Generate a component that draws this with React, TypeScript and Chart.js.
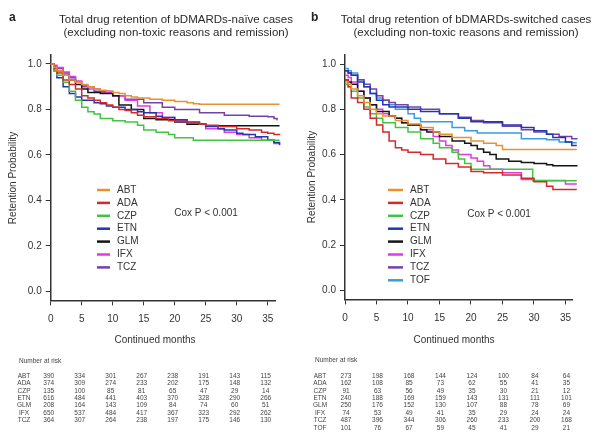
import React, { useEffect, useRef } from "react";
import { Chart, registerables } from "chart.js";

Chart.register(...registerables);

const FONT = "'Liberation Sans', Arial, Helvetica, sans-serif";

// ---------- categories / ticks ----------
const drugsA = ["ABT", "ADA", "CZP", "ETN", "GLM", "IFX", "TCZ"];
const drugsB = ["ABT", "ADA", "CZP", "ETN", "GLM", "IFX", "TCZ", "TOF"];
const drugColors: Record<string, string> = {
  ABT: "#E8912F",
  ADA: "#D42A2A",
  CZP: "#44C244",
  ETN: "#2236B0",
  GLM: "#151515",
  IFX: "#E03BE0",
  TCZ: "#7343A8",
  TOF: "#3A9CE0",
};
const xTicks = [0, 5, 10, 15, 20, 25, 30, 35];
const yTicks = [0, 0.2, 0.4, 0.6, 0.8, 1.0];
const riskMonths = [0, 5, 10, 15, 20, 25, 30, 35];

// ---------- panel a: survival curves (months, probability) ----------
const aABT_t = [0, 0.5, 1, 2, 3, 4, 5, 6, 7, 8, 9, 10, 11, 12, 13, 14, 16, 18, 20, 22, 23, 24, 36.9];
const aABT_s = [1, 0.985, 0.97, 0.95, 0.93, 0.92, 0.91, 0.9, 0.89, 0.885, 0.88, 0.875, 0.87, 0.86, 0.855, 0.85, 0.845, 0.84, 0.835, 0.83, 0.825, 0.823, 0.823];
const aADA_t = [0, 0.5, 1, 2, 3, 4, 5, 6, 7, 8, 9, 10, 11, 12, 13, 14, 15, 17, 19, 20, 22, 24, 25, 27, 30, 32, 34, 35, 36, 36.9];
const aADA_s = [1, 0.98, 0.96, 0.93, 0.91, 0.89, 0.86, 0.85, 0.84, 0.83, 0.82, 0.81, 0.8, 0.795, 0.785, 0.775, 0.768, 0.76, 0.75, 0.747, 0.74, 0.735, 0.73, 0.725, 0.715, 0.71, 0.7, 0.695, 0.69, 0.688];
const aCZP_t = [0, 0.5, 1, 2, 3, 4, 5, 6, 7, 8, 10, 12, 14, 15, 17, 19, 20, 23, 36.9];
const aCZP_s = [1, 0.97, 0.95, 0.92, 0.88, 0.84, 0.81, 0.79, 0.78, 0.76, 0.75, 0.745, 0.73, 0.71, 0.7, 0.69, 0.675, 0.665, 0.665];
const aETN_t = [0, 0.5, 1, 2, 3, 4, 5, 7, 8, 9, 10, 12, 14, 15, 17, 18, 20, 22, 24, 25, 27, 28, 30, 31, 33, 35, 36, 36.9];
const aETN_s = [1, 0.97, 0.94, 0.9, 0.87, 0.855, 0.84, 0.83, 0.825, 0.815, 0.81, 0.8, 0.79, 0.785, 0.77, 0.765, 0.755, 0.745, 0.735, 0.725, 0.715, 0.71, 0.695, 0.69, 0.68, 0.665, 0.655, 0.645];
const aGLM_t = [0, 0.5, 1, 2, 3, 4, 5, 6, 8, 10, 11, 13, 15, 17, 20, 22, 25, 36.9];
const aGLM_s = [1, 0.98, 0.97, 0.95, 0.93, 0.91, 0.89, 0.875, 0.87, 0.86, 0.82, 0.8, 0.76, 0.755, 0.745, 0.735, 0.728, 0.728];
const aIFX_t = [0, 0.5, 1, 2, 3, 4, 5, 6, 8, 10, 12, 14, 16, 18, 20, 22, 25, 28, 30, 32, 34, 36, 36.9];
const aIFX_s = [1, 0.995, 0.985, 0.965, 0.945, 0.925, 0.905, 0.89, 0.875, 0.86, 0.84, 0.815, 0.785, 0.765, 0.75, 0.735, 0.715, 0.7, 0.69, 0.675, 0.665, 0.65, 0.643];
const aTCZ_t = [0, 0.5, 1, 2, 3, 4, 5, 7, 10, 12, 15, 18, 20, 24, 28, 32, 35, 36, 36.5, 36.9];
const aTCZ_s = [1, 0.99, 0.98, 0.96, 0.94, 0.92, 0.9, 0.88, 0.86, 0.845, 0.83, 0.81, 0.8, 0.785, 0.775, 0.77, 0.768, 0.76, 0.752, 0.752];

// ---------- panel b: survival curves ----------
const bABT_t = [0, 0.5, 1, 2, 3, 4, 5, 6, 8, 10, 12, 14, 15, 17, 20, 22, 24, 25, 36.8];
const bABT_s = [0.92, 0.91, 0.89, 0.86, 0.83, 0.8, 0.78, 0.77, 0.75, 0.735, 0.72, 0.7, 0.69, 0.675, 0.66, 0.65, 0.64, 0.622, 0.622];
const bADA_t = [0, 0.5, 1, 2, 3, 4, 5, 6, 7, 8, 9, 10, 12, 14, 16, 18, 20, 22, 25, 28, 30, 32, 33, 36.8];
const bADA_s = [0.93, 0.9, 0.85, 0.83, 0.8, 0.76, 0.73, 0.7, 0.66, 0.63, 0.62, 0.61, 0.6, 0.58, 0.56, 0.545, 0.525, 0.52, 0.51, 0.495, 0.48, 0.46, 0.445, 0.445];
const bCZP_t = [0, 0.5, 1, 2, 3, 4, 5, 6, 8, 10, 12, 14, 15, 17, 18, 19, 20, 29.8, 36.8];
const bCZP_s = [0.91, 0.9, 0.88, 0.85, 0.81, 0.78, 0.76, 0.74, 0.72, 0.7, 0.67, 0.65, 0.63, 0.61, 0.58, 0.56, 0.535, 0.484, 0.484];
const bETN_t = [0, 0.5, 1, 2, 3, 4, 5, 6, 7, 10, 12, 15, 18, 20, 25, 28, 30, 32, 33, 35, 36, 36.8];
const bETN_s = [0.97, 0.96, 0.95, 0.92, 0.9, 0.87, 0.84, 0.82, 0.81, 0.8, 0.79, 0.78, 0.76, 0.745, 0.73, 0.72, 0.705, 0.69, 0.675, 0.655, 0.64, 0.64];
const bGLM_t = [0, 0.5, 1, 2, 3, 4, 5, 7, 8, 9, 10, 12, 13, 15, 17, 19, 20, 21, 22, 23, 24, 26, 28, 30, 32, 33, 36.8];
const bGLM_s = [0.93, 0.92, 0.91, 0.88, 0.85, 0.82, 0.79, 0.77, 0.76, 0.74, 0.73, 0.71, 0.7, 0.68, 0.66, 0.65, 0.64, 0.625, 0.61, 0.6, 0.58, 0.57, 0.565, 0.56, 0.555, 0.55, 0.547];
const bIFX_t = [0, 0.5, 1, 2, 3, 4, 5, 6, 7, 8, 9, 10, 12, 14, 15, 16, 17, 18, 20, 21, 22, 23, 25, 28, 30, 33, 35, 36.8];
const bIFX_s = [0.95, 0.94, 0.92, 0.88, 0.85, 0.82, 0.8, 0.78, 0.77, 0.76, 0.74, 0.73, 0.71, 0.68, 0.66, 0.64, 0.62, 0.6, 0.585, 0.57, 0.55, 0.535, 0.52, 0.49, 0.485, 0.485, 0.47, 0.47];
const bTCZ_t = [0, 0.5, 1, 2, 3, 4, 5, 6, 7, 8, 10, 12, 15, 18, 20, 22, 25, 28, 30, 32, 34, 36, 36.8];
const bTCZ_s = [0.97, 0.96, 0.95, 0.93, 0.91, 0.89, 0.86, 0.84, 0.83, 0.82, 0.81, 0.8, 0.78, 0.765, 0.75, 0.74, 0.725, 0.71, 0.7, 0.69, 0.68, 0.67, 0.667];
const bTOF_t = [0, 0.5, 1, 2, 3, 4, 5, 6, 7, 8, 10, 11, 12, 17, 19, 21, 28, 32, 34, 36, 36.8];
const bTOF_s = [0.98, 0.97, 0.96, 0.93, 0.9, 0.87, 0.85, 0.84, 0.82, 0.8, 0.78, 0.76, 0.745, 0.72, 0.705, 0.695, 0.67, 0.665, 0.655, 0.652, 0.652];

// ---------- number at risk ----------
const riskA_ABT = [390, 334, 301, 267, 238, 191, 143, 115];
const riskA_ADA = [374, 309, 274, 233, 202, 175, 148, 132];
const riskA_CZP = [135, 100, 85, 81, 65, 47, 29, 14];
const riskA_ETN = [616, 484, 441, 403, 370, 328, 290, 266];
const riskA_GLM = [208, 164, 143, 109, 84, 74, 60, 51];
const riskA_IFX = [650, 537, 484, 417, 367, 323, 292, 262];
const riskA_TCZ = [364, 307, 264, 238, 197, 175, 146, 130];

const riskB_ABT = [273, 198, 168, 144, 124, 100, 84, 64];
const riskB_ADA = [162, 108, 85, 73, 62, 55, 41, 35];
const riskB_CZP = [91, 63, 56, 49, 35, 30, 21, 12];
const riskB_ETN = [240, 188, 169, 159, 143, 131, 111, 101];
const riskB_GLM = [250, 176, 152, 130, 107, 88, 78, 69];
const riskB_IFX = [74, 53, 49, 41, 35, 29, 24, 24];
const riskB_TCZ = [487, 396, 344, 306, 260, 233, 200, 168];
const riskB_TOF = [101, 76, 67, 59, 45, 41, 29, 21];

const curvesA = [
  [aABT_t, aABT_s], [aADA_t, aADA_s], [aCZP_t, aCZP_s], [aETN_t, aETN_s],
  [aGLM_t, aGLM_s], [aIFX_t, aIFX_s], [aTCZ_t, aTCZ_s],
];
const curvesB = [
  [bABT_t, bABT_s], [bADA_t, bADA_s], [bCZP_t, bCZP_s], [bETN_t, bETN_s],
  [bGLM_t, bGLM_s], [bIFX_t, bIFX_s], [bTCZ_t, bTCZ_s], [bTOF_t, bTOF_s],
];
const riskTableA = [riskA_ABT, riskA_ADA, riskA_CZP, riskA_ETN, riskA_GLM, riskA_IFX, riskA_TCZ];
const riskTableB = [riskB_ABT, riskB_ADA, riskB_CZP, riskB_ETN, riskB_GLM, riskB_IFX, riskB_TCZ, riskB_TOF];

type PanelCfg = {
  left: number;
  letter: string;
  letterX: number;
  title: string[];
  titleX: number;
  drugs: string[];
  curves: number[][][];
  risk: number[][];
  yScaleW: number;
  padRight: number;
  padTop: number;
  xScaleH: number;
  xMax: number;
  yTitleX: number;
  yTitleY: number;
  xTitleX: number;
  legLineX0: number;
  legLineX1: number;
  legTextX: number;
  legTop: number;
  coxX: number;
  coxY: number;
  nrX: number;
  nrY: number;
  rowLabelX: number;
  colOffset: number;
};

const panelA: PanelCfg = {
  left: 0,
  letter: "a",
  letterX: 9,
  title: ["Total drug retention of bDMARDs-naïve cases", "(excluding non-toxic reasons and remission)"],
  titleX: 176,
  drugs: drugsA,
  curves: curvesA,
  risk: riskTableA,
  yScaleW: 50.7,
  padRight: 22.2,
  padTop: 54.9,
  xScaleH: 135.6,
  xMax: 36.3,
  yTitleX: 13,
  yTitleY: 178,
  xTitleX: 155,
  legLineX0: 97,
  legLineX1: 110,
  legTextX: 117,
  legTop: 190,
  coxX: 206,
  coxY: 213,
  nrX: 19,
  nrY: 361,
  rowLabelX: 24,
  colOffset: -2,
};

const panelB: PanelCfg = {
  left: 298,
  letter: "b",
  letterX: 13,
  title: ["Total drug retention of bDMARDs-switched cases", "(excluding non-toxic reasons and remission)"],
  titleX: 168,
  drugs: drugsB,
  curves: curvesB,
  risk: riskTableB,
  yScaleW: 47,
  padRight: 23.6,
  padTop: 54.95,
  xScaleH: 136.6,
  xMax: 36.1,
  yTitleX: 14,
  yTitleY: 177,
  xTitleX: 156,
  legLineX0: 90,
  legLineX1: 105,
  legTextX: 112,
  legTop: 190,
  coxX: 201,
  coxY: 214,
  nrX: 17,
  nrY: 360,
  rowLabelX: 22,
  colOffset: 1,
};

const annotPlugin = {
  id: "kmAnnot",
  afterDraw(chart: any, _args: any, opts: any) {
    const p: PanelCfg = opts.panel;
    const ctx: CanvasRenderingContext2D = chart.ctx;
    const xs = chart.scales.x;
    ctx.save();
    ctx.fillStyle = "#222";
    ctx.textBaseline = "middle";

    // panel letter
    ctx.font = `bold 12px ${FONT}`;
    ctx.textAlign = "left";
    ctx.fillText(p.letter, p.letterX, 18);

    // title
    ctx.font = `11.5px ${FONT}`;
    ctx.fillStyle = "#2a2a2a";
    ctx.textAlign = "center";
    ctx.fillText(p.title[0], p.titleX, 20);
    ctx.fillText(p.title[1], p.titleX, 33);

    // axis titles
    ctx.font = `10px ${FONT}`;
    ctx.fillStyle = "#333";
    ctx.save();
    ctx.translate(p.yTitleX, p.yTitleY);
    ctx.rotate(-Math.PI / 2);
    ctx.fillText("Retention Probability", 0, 0);
    ctx.restore();
    ctx.fillText("Continued months", p.xTitleX, 340);

    // legend
    chart.data.datasets.forEach((ds: any, i: number) => {
      const y = p.legTop + i * 12.9;
      ctx.strokeStyle = ds.borderColor;
      ctx.lineWidth = 2.5;
      ctx.beginPath();
      ctx.moveTo(p.legLineX0, y);
      ctx.lineTo(p.legLineX1, y);
      ctx.stroke();
      ctx.fillStyle = "#333";
      ctx.textAlign = "left";
      ctx.font = `10px ${FONT}`;
      ctx.fillText(ds.label, p.legTextX, y);
    });

    // cox
    ctx.textAlign = "center";
    ctx.font = `10px ${FONT}`;
    ctx.fillText("Cox P < 0.001", p.coxX, p.coxY);

    // number at risk table
    ctx.fillStyle = "#444";
    ctx.font = `6.5px ${FONT}`;
    ctx.textAlign = "left";
    ctx.fillText("Number at risk", p.nrX, p.nrY);
    p.risk.forEach((row, r) => {
      const y = 376 + r * 7.4;
      ctx.textAlign = "center";
      ctx.fillText(p.drugs[r], p.rowLabelX, y);
      row.forEach((v, c) => {
        const x = xs.getPixelForValue(riskMonths[c]) + p.colOffset;
        ctx.fillText(String(v), x, y);
      });
    });
    ctx.restore();
  },
};

function KMPanel({ panel }: { panel: PanelCfg }) {
  const ref = useRef<HTMLCanvasElement>(null);
  useEffect(() => {
    const datasets = panel.drugs.map((d, i) => {
      const [t, s] = panel.curves[i];
      return {
        label: d,
        data: t.map((x, k) => ({ x, y: s[k] })),
        borderColor: drugColors[d],
        backgroundColor: drugColors[d],
        borderWidth: 1.5,
        pointRadius: 0,
        stepped: true as const,
        fill: false,
        tension: 0,
        clip: false as any,
      };
    });
    const chart = new Chart(ref.current as HTMLCanvasElement, {
      type: "line",
      data: { datasets },
      plugins: [annotPlugin],
      options: {
        animation: false,
        responsive: false,
        events: [],
        layout: { padding: { left: 0, right: panel.padRight, top: panel.padTop, bottom: 0 } },
        plugins: {
          legend: { display: false },
          tooltip: { enabled: false },
          title: { display: false },
          kmAnnot: { panel },
        } as any,
        scales: {
          x: {
            type: "linear",
            min: 0,
            max: panel.xMax,
            afterBuildTicks: (s: any) => {
              s.ticks = xTicks.map((v) => ({ value: v }));
            },
            afterFit: (s: any) => {
              s.height = panel.xScaleH;
            },
            grid: { display: true, drawOnChartArea: false, drawTicks: true, tickLength: 5, color: "#333", lineWidth: 1 },
            border: { display: true, color: "#333", width: 1.5 },
            ticks: {
              font: { family: FONT, size: 10 },
              color: "#333",
              padding: 8,
              maxRotation: 0,
              autoSkip: false,
              callback: (v: any) => String(v),
            },
          },
          y: {
            type: "linear",
            min: -0.04,
            max: 1.04,
            afterBuildTicks: (s: any) => {
              s.ticks = yTicks.map((v) => ({ value: v }));
            },
            afterFit: (s: any) => {
              s.width = panel.yScaleW;
            },
            grid: { display: true, drawOnChartArea: false, drawTicks: true, tickLength: 5, color: "#333", lineWidth: 1 },
            border: { display: true, color: "#333", width: 1.5 },
            ticks: {
              font: { family: FONT, size: 10 },
              color: "#333",
              padding: 4,
              autoSkip: false,
              callback: (v: any) => Number(v).toFixed(1),
            },
          },
        },
      } as any,
    });
    return () => chart.destroy();
  }, [panel]);
  return (
    <canvas
      ref={ref}
      width={298}
      height={436}
      style={{ position: "absolute", left: panel.left, top: 0, width: 298, height: 436 }}
    />
  );
}

export default function App() {
  return (
    <div style={{ position: "fixed", left: 0, top: 0, width: 596, height: 436, background: "#fff", overflow: "hidden" }}>
      <KMPanel panel={panelA} />
      <KMPanel panel={panelB} />
    </div>
  );
}
